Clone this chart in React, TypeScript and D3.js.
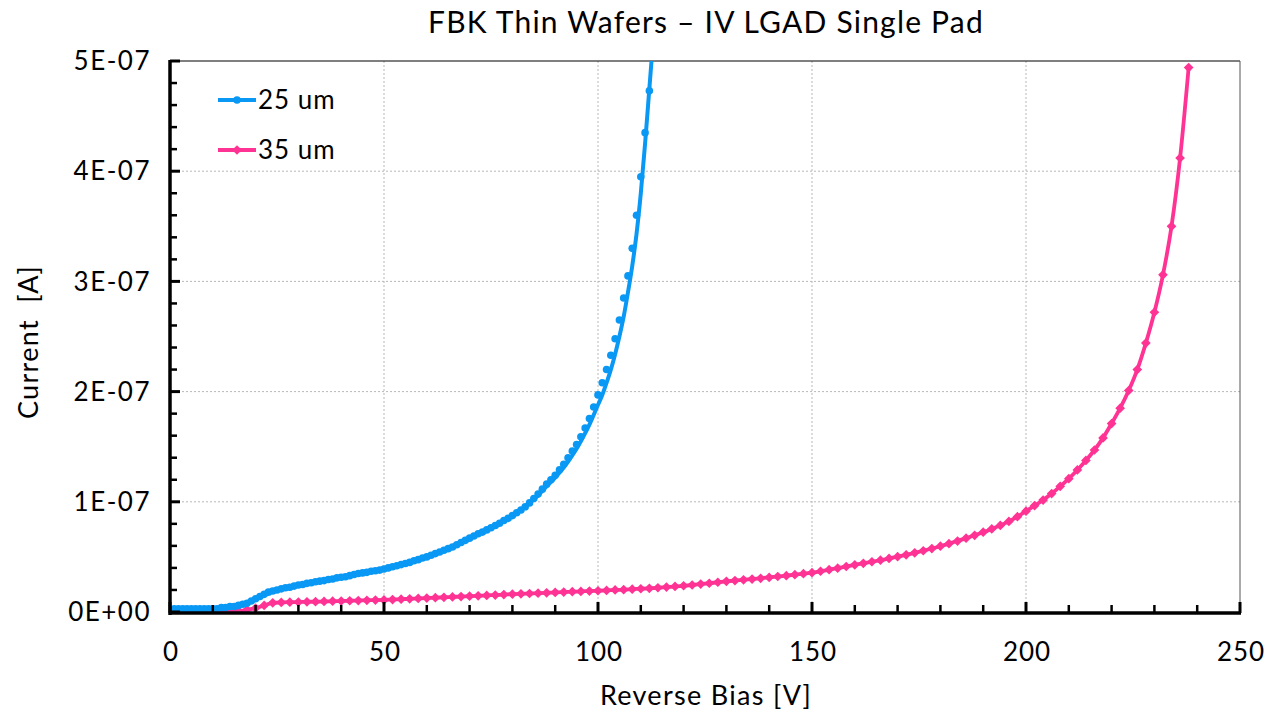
// IV curves of FBK thin wafers (single pad LGAD)
import React from 'react';
import * as d3 from 'd3';

// 25 um: measured points (V, current in nA)
const volts25 = [0, 1, 2, 3, 4, 5, 6, 7, 8, 9, 10, 11, 12, 13, 14, 15, 16, 17, 18, 19,
  20, 21, 22, 23, 24, 25, 26, 27, 28, 29, 30, 31, 32, 33, 34, 35, 36, 37, 38, 39,
  40, 41, 42, 43, 44, 45, 46, 47, 48, 49, 50, 51, 52, 53, 54, 55, 56, 57, 58, 59,
  60, 61, 62, 63, 64, 65, 66, 67, 68, 69, 70, 71, 72, 73, 74, 75, 76, 77, 78, 79,
  80, 81, 82, 83, 84, 85, 86, 87, 88, 89, 90, 91, 92, 93, 94, 95, 96, 97, 98, 99,
  100, 101, 102, 103, 104, 105, 106, 107, 108, 109, 110, 111, 112];
const nA25 = [2, 3, 3, 3, 3, 3, 3, 3, 3, 3, 3, 3, 4, 4, 5, 5, 6, 7, 8, 10,
  12, 14, 16, 18, 19, 20, 21, 22, 22.5, 23.5, 24.5, 25, 26, 26.5, 27.5, 28, 28.5, 29.5, 30, 31,
  31.5, 32, 33, 34, 35, 35.5, 36, 37, 37.5, 38, 39, 40, 41, 42, 43, 44, 45, 46.5, 47.5, 49,
  50, 51.5, 53, 54.5, 56, 57.5, 59, 61, 63, 65, 67, 69, 71, 72.5, 74.5, 76.5, 78.5, 80.5, 83, 85,
  87.5, 90, 92.5, 95.5, 99, 103, 107, 111.5, 116, 120, 124, 129, 134, 140, 146, 152, 159, 167, 175.5, 186,
  197, 208, 220, 233, 248, 265, 285, 305, 330, 360, 395, 435, 473];

// 25 um: the drawn line sits a little right of the points on the steep part
const lineVolts25 = [0, 5, 10, 13, 17, 20, 23, 26, 30, 40, 50, 60, 70, 80, 85, 88, 90, 92, 94, 96, 98,
  100, 101, 102, 103, 104, 105, 106, 107, 108, 109, 110, 111, 112, 112.6];
const lineNA25 = [2, 3, 3, 4, 7, 12, 18, 21, 24.5, 31.5, 39, 50, 67, 87.5, 102, 114, 122, 131, 142, 155, 170,
  188, 197, 208, 220, 234, 250, 268, 290, 314, 343, 380, 425, 475, 505];

// 35 um
const volts35 = [2, 4, 6, 8, 10, 12, 14, 16, 18, 20, 22, 24, 26, 28, 30, 32, 34, 36, 38, 40,
  42, 44, 46, 48, 50, 52, 54, 56, 58, 60, 62, 64, 66, 68, 70, 72, 74, 76, 78, 80,
  82, 84, 86, 88, 90, 92, 94, 96, 98, 100, 102, 104, 106, 108, 110, 112, 114, 116, 118, 120,
  122, 124, 126, 128, 130, 132, 134, 136, 138, 140, 142, 144, 146, 148, 150, 152, 154, 156, 158, 160,
  162, 164, 166, 168, 170, 172, 174, 176, 178, 180, 182, 184, 186, 188, 190, 192, 194, 196, 198, 200,
  202, 204, 206, 208, 210, 212, 214, 216, 218, 220, 222, 224, 226, 228, 230, 232, 234, 236, 238];
const nA35 = [0.5, 0.5, 0.5, 0.5, 0.5, 0.5, 0.6, 1, 2, 3.5, 6, 8.3, 8.7, 8.9, 9.0, 9.2, 9.4, 9.6, 9.8, 10.0,
  10.2, 10.4, 10.6, 10.8, 11.0, 11.3, 11.6, 12.0, 12.3, 12.6, 13.0, 13.3, 13.7, 14.0, 14.4, 14.7, 15.0, 15.4, 15.8, 16.2,
  16.5, 16.8, 17.1, 17.4, 17.8, 18.1, 18.4, 18.7, 19.0, 19.3, 19.6, 20.0, 20.3, 20.7, 21.1, 21.5, 22.0, 22.6, 23.2, 23.8,
  24.5, 25.3, 26.1, 27.0, 27.8, 28.5, 29.2, 29.9, 30.6, 31.4, 32.2, 33.0, 33.9, 34.8, 35.7, 37.0, 38.4, 39.8, 41.3, 42.8,
  44.2, 45.6, 47.0, 48.6, 50.2, 51.9, 53.7, 55.6, 57.6, 59.7, 62.0, 64.4, 67.0, 69.6, 72.4, 75.4, 78.6, 82.2, 86.5, 91.5,
  96.5, 101.6, 107.5, 114, 121, 128.9, 137.5, 147, 158, 171, 185, 201, 220, 244, 272, 306, 350, 412, 494];

const xTicks = [0, 50, 100, 150, 200, 250];
const yTicks = [0, 1e-7, 2e-7, 3e-7, 4e-7, 5e-7];
const yTickLabels = ['0E+00', '1E-07', '2E-07', '3E-07', '4E-07', '5E-07'];
const xMinor = [10, 20, 30, 40, 60, 70, 80, 90, 110, 120, 130, 140, 160, 170, 180, 190, 210, 220, 230, 240];
const yMinor = [2e-8, 4e-8, 6e-8, 8e-8, 1.2e-7, 1.4e-7, 1.6e-7, 1.8e-7, 2.2e-7, 2.4e-7, 2.6e-7, 2.8e-7,
  3.2e-7, 3.4e-7, 3.6e-7, 3.8e-7, 4.2e-7, 4.4e-7, 4.6e-7, 4.8e-7];

const seriesNames = ['25 um', '35 um'];
const BLUE = '#0a98f5';
const PINK = '#ff3394';
const FONT = 'Lato, "Open Sans", sans-serif';

export default function App() {
  const width = 1268;
  const height = 715;
  const left = 170, right = 1240, top = 61, bottom = 612;

  const x = d3.scaleLinear().domain([0, 250]).range([left, right]);
  const y = d3.scaleLinear().domain([0, 5e-7]).range([bottom, top]);

  const pts25 = volts25.map((v, i) => [v, nA25[i] * 1e-9]);
  const line25 = lineVolts25.map((v, i) => [v, lineNA25[i] * 1e-9]);
  const pts35 = volts35.map((v, i) => [v, nA35[i] * 1e-9]);

  const line = d3.line<number[]>()
    .x(d => x(d[0]))
    .y(d => y(d[1]))
    .curve(d3.curveMonotoneX);

  const diamondType = (d3 as any).symbolDiamond2 || d3.symbolDiamond;
  const diamond = d3.symbol().type(diamondType).size(60)();

  return (
    <svg width={width} height={height} style={{ position: 'absolute', left: 0, top: 0 }}>
      <defs>
        <clipPath id="plot">
          <rect x={left} y={top} width={right - left} height={bottom - top} />
        </clipPath>
      </defs>
      <rect width={width} height={height} fill="#fff" />

      {/* grid */}
      {xTicks.slice(1, -1).map(t => (
        <line key={'gx' + t} x1={x(t)} x2={x(t)} y1={top} y2={bottom}
          stroke="#b8b8b8" strokeWidth={1} strokeDasharray="2,2" />
      ))}
      {yTicks.slice(1, -1).map(t => (
        <line key={'gy' + t} x1={left} x2={right} y1={y(t)} y2={y(t)}
          stroke="#b8b8b8" strokeWidth={1} strokeDasharray="2,2" />
      ))}
      <line x1={left} x2={right} y1={top} y2={top} stroke="#000" strokeWidth={1.2} />
      <line x1={right} x2={right} y1={top} y2={bottom} stroke="#555" strokeWidth={1} />

      {/* series */}
      <g clipPath="url(#plot)">
        <path d={line(pts35) || ''} fill="none" stroke={PINK} strokeWidth={3.8} />
        {pts35.map((d, i) => (
          <path key={'p' + i} d={diamond} transform={`translate(${x(d[0])},${y(d[1])})`} fill={PINK} />
        ))}
        <path d={line(line25) || ''} fill="none" stroke={BLUE} strokeWidth={4} />
        {pts25.map((d, i) => (
          <circle key={'b' + i} cx={x(d[0])} cy={y(d[1])} r={3.8} fill={BLUE} />
        ))}
      </g>

      {/* axes */}
      <line x1={left} x2={left} y1={top - 1} y2={bottom + 3} stroke="#000" strokeWidth={3.5} />
      <line x1={left - 1} x2={right + 1} y1={bottom + 1} y2={bottom + 1} stroke="#000" strokeWidth={3.5} />
      {yTicks.map(t => (
        <line key={'yt' + t} x1={left} x2={left + 10} y1={y(t)} y2={y(t)} stroke="#000" strokeWidth={3} />
      ))}
      {yMinor.map(t => (
        <line key={'ym' + t} x1={left} x2={left + 7} y1={y(t)} y2={y(t)} stroke="#000" strokeWidth={2.5} />
      ))}
      {xTicks.map(t => (
        <line key={'xt' + t} x1={x(t)} x2={x(t)} y1={bottom + 1} y2={bottom - 10} stroke="#000" strokeWidth={3} />
      ))}
      {xMinor.map(t => (
        <line key={'xm' + t} x1={x(t)} x2={x(t)} y1={bottom + 1} y2={bottom - 7} stroke="#000" strokeWidth={2.5} />
      ))}

      {/* tick labels */}
      {yTicks.map((t, i) => (
        <text key={'yl' + t} x={151} y={y(t)} dy="0.35em" textAnchor="end" letterSpacing={1.5}
          fontFamily={FONT} fontSize={26} fill="#000">{yTickLabels[i]}</text>
      ))}
      {xTicks.map(t => (
        <text key={'xl' + t} x={x(t) + 1} y={652} dy="0.35em" textAnchor="middle" letterSpacing={1}
          fontFamily={FONT} fontSize={26} fill="#000">{t}</text>
      ))}

      {/* titles */}
      <text x={706} y={22} dy="0.35em" textAnchor="middle" fontFamily={FONT} fontSize={30}
        letterSpacing={1.2} fill="#000">
        FBK Thin Wafers – IV LGAD Single Pad
      </text>
      <text x={706} y={696} dy="0.35em" textAnchor="middle" fontFamily={FONT} fontSize={27}
        letterSpacing={1.3} fill="#000">
        Reverse Bias [V]
      </text>
      <text transform="translate(29,342) rotate(-90)" dy="0.35em" textAnchor="middle"
        fontFamily={FONT} fontSize={27} letterSpacing={1.3} fill="#000" xmlSpace="preserve">
        Current  [A]
      </text>

      {/* legend */}
      <g>
        <line x1={218} x2={256} y1={100} y2={100} stroke={BLUE} strokeWidth={4} />
        <circle cx={237} cy={100} r={3.8} fill={BLUE} />
        <text x={258} y={100} dy="0.35em" fontFamily={FONT} fontSize={26} letterSpacing={1}
          fill="#000">{seriesNames[0]}</text>
        <line x1={218} x2={256} y1={150} y2={150} stroke={PINK} strokeWidth={3.8} />
        <path d={diamond} transform="translate(237,150)" fill={PINK} />
        <text x={258} y={150} dy="0.35em" fontFamily={FONT} fontSize={26} letterSpacing={1}
          fill="#000">{seriesNames[1]}</text>
      </g>
    </svg>
  );
}
